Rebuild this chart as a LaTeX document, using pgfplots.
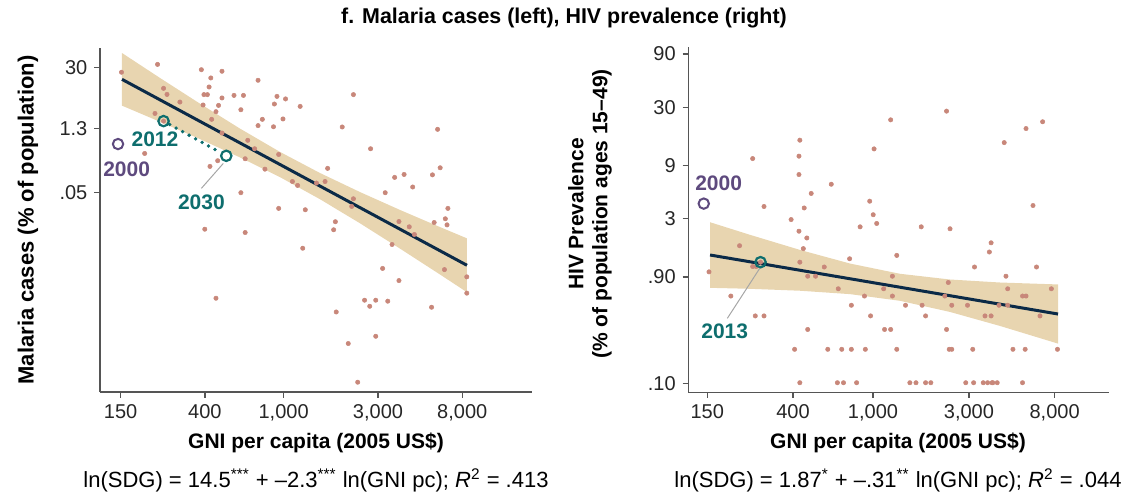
\documentclass[border=0pt]{standalone}
\usepackage{fontspec}
\setmainfont{Liberation Sans}
\usepackage{pgfplots}
\pgfplotsset{compat=1.18}
\definecolor{dotc}{HTML}{C8877A}
\definecolor{band}{HTML}{E8D5B0}
\definecolor{fitc}{HTML}{0B2A47}
\definecolor{tealc}{HTML}{0E6E6E}
\definecolor{purp}{HTML}{5E4A7E}
\definecolor{axc}{HTML}{555555}
\pgfplotsset{
  panel/.style={
    scale only axis, clip=false,
    axis x line*=bottom, axis y line*=left,
    axis line style={axc, line width=0.7pt},
    tick style={axc, line width=0.6pt},
    major tick length=2.8pt, tick align=outside,
    minor tick num=0,
    xtick={5.0106,5.9915,6.9078,8.0064,8.9872},
    xticklabels={150,400,{1,000},{3,000},{8,000}},
    xticklabel style={font=\fontsize{10}{12}\selectfont, text=black!85},
    yticklabel style={font=\fontsize{10}{12}\selectfont, text=black!85},
  },
  dots/.style={only marks, mark=*, color=dotc, mark size=1.1pt, mark options={draw=dotc, fill=dotc, line width=0.25pt, line join=round}},
}
\begin{document}
\begin{tikzpicture}
\useasboundingbox (0,0) rectangle (562pt,249.5pt);
% ---------------- left panel ----------------
\begin{axis}[panel, at={(50pt,53.5pt)}, anchor=south west,
  width=216pt, height=172pt,
  xmin=4.770, xmax=9.799, ymin=-13.15, ymax=4.386,
  ytick={3.4012,0.2624,-2.9957}, yticklabels={30,1.3,.05}]
\addplot[fill=band, draw=none] coordinates {
 (5.026,4.131) (5.468,2.860) (5.934,1.549) (6.399,0.279) (6.865,-0.910) (7.331,-1.987) (7.796,-2.956) (8.262,-3.869) (8.728,-4.742) (9.042,-5.318)
 (9.042,-8.063) (8.728,-7.160) (8.262,-5.839) (7.796,-4.548) (7.331,-3.323) (6.865,-2.196) (6.399,-1.191) (5.934,-0.257) (5.468,0.626) (5.026,1.447)};
\addplot[dots] coordinates {
 (5.02,3.15) (5.44,3.55) (5.51,2.33) (5.55,2.02) (5.70,1.63) (5.41,1.05) (5.51,0.66) (5.29,-0.99) (5.95,3.28) (6.06,2.86)
 (6.19,3.20) (6.04,2.40) (5.98,2.01) (6.02,2.01) (5.97,1.48) (6.15,1.46) (6.19,1.84) (6.12,1.14) (6.07,0.75) (6.33,1.97)
 (6.44,1.97) (6.41,1.24) (6.61,2.74) (6.83,1.92) (6.93,1.79) (6.80,1.53) (7.10,1.41) (6.66,0.75) (6.61,0.43) (6.79,0.37)
 (6.90,0.77) (6.19,0.05) (6.49,-0.32) (6.57,-0.75) (6.46,-1.26) (6.14,-1.36) (6.05,-1.65) (6.85,-1.04) (6.69,-1.79) (6.41,-2.99)
 (5.99,-4.85) (6.46,-5.02) (6.12,-8.37) (6.85,-3.79) (7.16,-3.86) (7.13,-5.82) (7.01,-2.42) (7.07,-2.62) (7.29,-2.50) (7.39,-2.42)
 (7.42,-1.75) (7.59,0.36) (7.72,2.01) (7.92,-0.75) (7.72,-3.30) (7.70,-3.69) (7.51,-4.47) (7.49,-4.88) (7.52,-9.07) (7.66,-10.68)
 (7.77,-12.65) (7.85,-8.47) (7.91,-8.78) (7.98,-8.47) (8.12,-8.52) (7.98,-10.31) (8.06,-6.85) (8.25,-7.47) (8.17,-5.63) (8.09,-2.99)
 (8.20,-2.21) (8.31,-2.06) (8.41,-2.70) (8.25,-4.46) (8.37,-4.73) (8.43,-5.12) (8.64,-2.08) (8.70,0.24) (8.73,-1.72) (8.66,-4.51)
 (8.79,-4.32) (8.82,-3.79) (8.81,-4.63) (8.78,-6.91) (9.04,-7.28) (9.04,-8.11) (8.63,-8.83)};
\addplot[fitc, line width=1.5pt] coordinates {(5.026,2.789) (9.042,-6.691)};
\addplot[tealc, line width=1.9pt, line cap=round, dash pattern=on 0pt off 3.7pt, shorten <=3.5pt, shorten >=3pt] coordinates {(5.51,0.66) (6.24,-1.11)};
\addplot[only marks, mark=o, mark size=2.6pt, mark options={draw=tealc, line width=1.1pt}] coordinates {(5.51,0.66) (6.24,-1.11)};
\addplot[only marks, mark=o, mark size=2.6pt, mark options={draw=purp, line width=1.0pt}] coordinates {(4.98,-0.51)};
\draw[black!35, line width=0.5pt] (5.95,-2.77) -- (6.205,-1.50);
\node[font=\bfseries\fontsize{10.5}{12}\selectfont, text=purp] at (5.08,-1.80) {2000};
\node[font=\bfseries\fontsize{10.5}{12}\selectfont, text=tealc] at (5.41,-0.26) {2012};
\node[font=\bfseries\fontsize{10.5}{12}\selectfont, text=tealc] at (5.95,-3.49) {2030};
\end{axis}
% ---------------- right panel ----------------
\begin{axis}[panel, at={(344.15pt,53.35pt)}, anchor=south west,
  width=210.35pt, height=172.8pt,
  xmin=4.793, xmax=9.610, ymin=-2.488, ymax=4.651,
  ytick={4.4998,3.4012,2.1972,1.0986,-0.1054,-2.3026}, yticklabels={90,30,9,3,.90,.10}]
\addplot[fill=band, draw=none] coordinates {
 (5.042,1.025) (5.499,0.765) (6.072,0.453) (6.644,0.172) (7.217,-0.040) (7.789,-0.158) (8.361,-0.220) (9.026,-0.260)
 (9.026,-1.482) (8.361,-1.117) (7.789,-0.828) (7.217,-0.598) (6.644,-0.460) (6.072,-0.390) (5.499,-0.350) (5.042,-0.330)};
\addplot[dots] coordinates {
 (5.03,0.00) (5.28,-0.50) (5.38,0.54) (5.53,2.34) (5.53,0.11) (5.57,0.11) (5.62,0.20) (5.66,1.35) (5.56,-0.91) (5.66,-0.91)
 (5.97,1.08) (6.01,-1.60) (6.06,2.39) (6.07,2.72) (6.06,2.01) (6.06,0.84) (6.12,1.32) (6.11,0.48) (6.15,0.70) (6.07,0.20)
 (6.20,1.62) (6.16,-0.09) (6.25,-0.09) (6.16,-1.19) (6.07,-2.29) (6.35,0.10) (6.39,-1.60) (6.43,1.81) (6.51,-0.35) (6.55,-1.60)
 (6.50,-2.29) (6.57,-2.29) (6.64,0.27) (6.66,-0.69) (6.66,-1.60) (6.72,-2.29) (6.76,0.93) (6.81,-0.50) (6.82,-1.60) (6.87,1.46)
 (6.91,1.18) (6.95,1.00) (6.92,2.54) (6.88,-0.91) (7.04,-1.19) (7.11,-1.19) (7.11,3.14) (7.03,-0.35) (7.13,-0.09) (7.13,-0.50)
 (7.18,0.34) (7.18,-1.60) (7.28,-0.69) (7.33,-2.29) (7.40,-2.29) (7.46,0.93) (7.47,-0.69) (7.51,-0.91) (7.51,-2.29) (7.57,-2.29)
 (7.75,3.32) (7.77,-0.22) (7.79,0.89) (7.73,-0.50) (7.81,-0.69) (7.75,-1.19) (7.78,-1.60) (7.81,-1.60) (7.99,-0.69) (8.07,0.10)
 (8.05,-1.60) (7.97,-2.29) (8.06,-2.29) (8.17,-2.29) (8.22,-2.29) (8.27,-2.29) (8.28,-2.29) (8.33,-2.29) (8.19,-0.91) (8.26,-0.91)
 (8.24,0.41) (8.26,0.60) (8.35,-0.69) (8.41,2.67) (8.43,-0.09) (8.45,-0.35) (8.45,-0.69) (8.51,-1.60) (8.66,2.96) (8.74,1.37)
 (8.78,0.10) (8.62,-0.50) (8.66,-0.50) (8.65,-1.60) (8.62,-2.29) (8.82,-0.91) (8.85,3.10) (8.95,-0.35) (9.02,-1.60)};
\addplot[fitc, line width=1.5pt] coordinates {(5.042,0.348) (9.026,-0.871)};
\addplot[only marks, mark=o, mark size=2.6pt, mark options={draw=tealc, line width=1.1pt}] coordinates {(5.62,0.20)};
\addplot[only marks, mark=o, mark size=2.6pt, mark options={draw=purp, line width=1.0pt}] coordinates {(4.97,1.41)};
\draw[black!35, line width=0.5pt] (5.24,-0.96) -- (5.61,0.07);
\node[font=\bfseries\fontsize{10.5}{12}\selectfont, text=purp] at (5.14,1.84) {2000};
\node[font=\bfseries\fontsize{10.5}{12}\selectfont, text=tealc] at (5.21,-1.22) {2013};
\end{axis}
% ---------------- texts ----------------
\node[font=\bfseries\fontsize{10.7}{12}\selectfont] at (282pt,240.5pt) {f. Malaria cases (left), HIV prevalence (right)};
\node[font=\bfseries\fontsize{10.5}{12}\selectfont] at (158pt,28pt) {GNI per capita (2005 US\$)};
\node[font=\bfseries\fontsize{10.5}{12}\selectfont] at (449pt,28pt) {GNI per capita (2005 US\$)};
\node[font=\fontsize{11}{13}\selectfont] at (158pt,9.5pt) {ln(SDG) = 14.5\textsuperscript{***} + \textendash2.3\textsuperscript{***} ln(GNI pc); \textit{R}\textsuperscript{2} = .413};
\node[font=\fontsize{11}{13}\selectfont] at (449pt,9.5pt) {ln(SDG) = 1.87\textsuperscript{*} + \textendash.31\textsuperscript{**} ln(GNI pc); \textit{R}\textsuperscript{2} = .044};
\node[font=\bfseries\fontsize{11}{13}\selectfont, rotate=90] at (14pt,139.5pt) {Malaria cases (\% of population)};
\node[font=\bfseries\fontsize{10.5}{12}\selectfont, rotate=90, align=center] at (295pt,142.5pt) {HIV Prevalence\\(\% of population ages 15\textendash49)};
\end{tikzpicture}
\end{document}
